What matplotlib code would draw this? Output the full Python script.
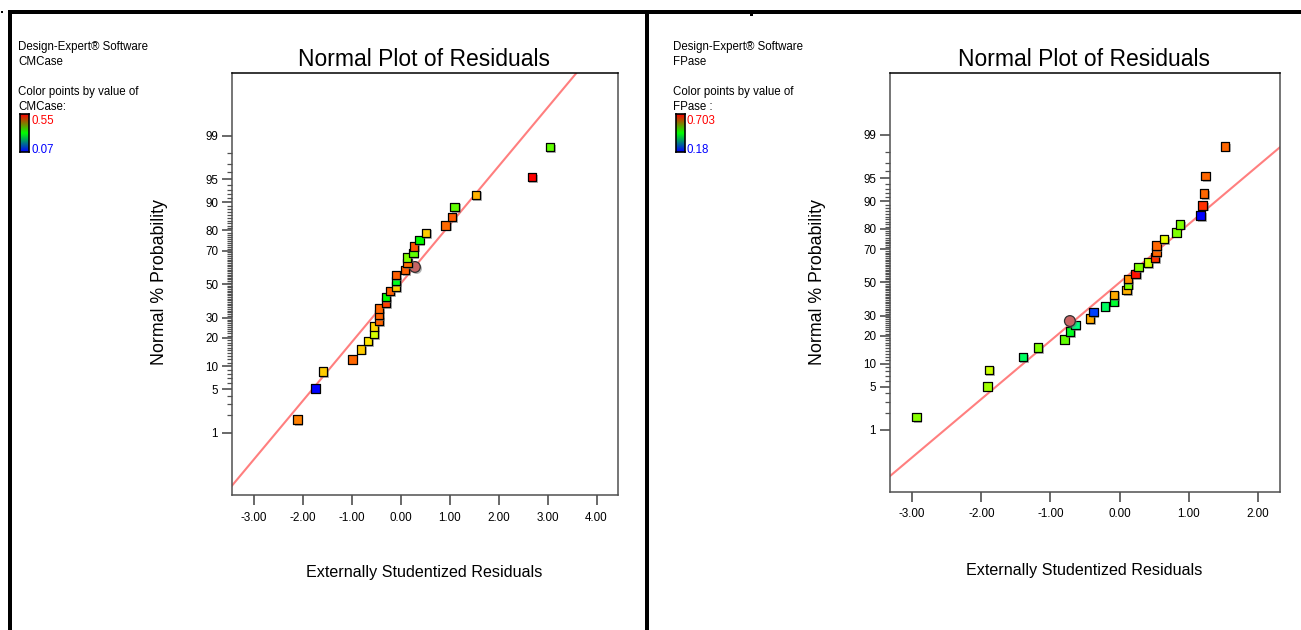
import math
import numpy as np
import matplotlib
matplotlib.use("Agg")
import matplotlib.pyplot as plt
from matplotlib.colors import LinearSegmentedColormap
from matplotlib.patches import Rectangle
import matplotlib.patheffects as pe

FONT = ["Liberation Sans", "DejaVu Sans"]
plt.rcParams["font.family"] = FONT

# ---------------- data: left panel (CMCase) ----------------
cm_resid = [-2.11, -1.74, -1.59, -0.99, -0.81, -0.67, -0.55, -0.55, -0.44, -0.44,
            -0.44, -0.30, -0.30, -0.22, -0.10, -0.10, -0.10, 0.09, 0.29, 0.14,
            0.13, 0.26, 0.27, 0.38, 0.52, 0.92, 1.05, 1.10, 1.54, 2.68, 3.05]
cm_prob = [1.70, 5.16, 8.53, 11.9, 15.4, 18.7, 21.8, 25.5, 28.4, 31.6,
           35.2, 38.6, 42.1, 45.6, 48.4, 52.0, 55.6, 58.7, 60.6, 62.9,
           66.3, 68.8, 72.2, 75.5, 78.8, 82.1, 85.3, 88.7, 91.9, 95.3, 98.4]
cm_colors = ["#FF8000", "#0000FF", "#FFCC00", "#FF6600", "#FFCC00", "#FFE600", "#D4FF00",
             "#FFD700", "#FF6600", "#FF6600", "#FF6600", "#FF4000", "#00FF00", "#FF6000",
             "#FFCC00", "#00FF20", "#FF6000", "#FF6000", "#C86464", "#FF7000", "#80FF00",
             "#60FF00", "#FF5000", "#00FF00", "#FFCC00", "#FF6A00", "#FF5A00", "#60FF00",
             "#FFB000", "#FF0000", "#60FF00"]
cm_circle_index = 18
cm_line = (0.918, 0.01)          # slope, intercept (in normal-quantile units)
cm_range = ("0.55", "0.07")
cm_name = "CMCase"
cm_colorby = "CMCase:"

# ---------------- data: right panel (FPase) ----------------
fp_resid = [-2.94, -1.91, -1.89, -1.40, -1.18, -0.80, -0.72, -0.64, -0.72, -0.43,
            -0.38, -0.21, -0.08, -0.08, 0.10, 0.12, 0.12, 0.23, 0.27, 0.41,
            0.51, 0.53, 0.53, 0.64, 0.82, 0.87, 1.17, 1.20, 1.22, 1.24, 1.52]
fp_prob = [1.70, 5.05, 8.38, 11.9, 15.2, 18.4, 21.8, 25.1, 27.1, 28.4,
           31.9, 35.2, 38.2, 42.1, 45.2, 48.8, 52.0, 55.2, 59.5, 62.2,
           65.2, 68.4, 71.9, 75.2, 78.5, 81.9, 85.3, 88.7, 91.9, 95.3, 98.4]
fp_colors = ["#88FF00", "#A0FF00", "#CCFF00", "#00FF60", "#80FF00", "#60FF00", "#00FF20",
             "#00FF80", "#C86464", "#FFAA00", "#0040FF", "#00FF60", "#00FF30", "#FFAA00",
             "#FFB000", "#80FF00", "#FF8C00", "#FF1000", "#80FF00", "#CCFF00", "#FF3000",
             "#FF6600", "#FF6600", "#E6FF00", "#80FF00", "#80FF00", "#0000FF", "#FF3000",
             "#FF6600", "#FF6600", "#FF6600"]
fp_circle_index = 8
fp_line = (0.92, 0.0)
fp_range = ("0.703", "0.18")
fp_name = "FPase"
fp_colorby = "FPase :"

major_probs = [1, 5, 10, 20, 30, 50, 70, 80, 90, 95, 99]
x_ticks_left = [-3, -2, -1, 0, 1, 2, 3, 4]
x_ticks_right = [-3, -2, -1, 0, 1, 2]


def norm_cdf(z):
    return 0.5 * (1.0 + math.erf(z / math.sqrt(2.0)))


def norm_ppf(p):
    lo, hi = -10.0, 10.0
    for _ in range(100):
        mid = 0.5 * (lo + hi)
        if norm_cdf(mid) < p:
            lo = mid
        else:
            hi = mid
    return 0.5 * (lo + hi)


def z_of(pcts):
    return [norm_ppf(p / 100.0) for p in pcts]


W, H = 1301, 630
fig = plt.figure(figsize=(W / 100, H / 100), dpi=100)


def fx(x):
    return x / W


def fy(y):
    return 1 - y / H


def add_axes_px(x0, y0, x1, y1):
    return fig.add_axes([fx(x0), fy(y1), (x1 - x0) / W, (y1 - y0) / H])


cmap = LinearSegmentedColormap.from_list("de", ["#0000FF", "#00FF00", "#FF0000"])

shadow = [pe.SimplePatchShadow(offset=(1.2, -1.2), shadow_rgbFace="0.45", alpha=0.55), pe.Normal()]


def panel(box, xlim, xticks, resid, prob, colors, circ, line, rng, name, colorby,
          txt_x, cbar_box, ylab_x, title_x, xlab_y):
    ax = add_axes_px(*box)
    z = z_of(prob)
    ax.set_xlim(*xlim)
    ax.set_ylim(-3.3, 3.3)
    ax.axline((0, line[1]), slope=line[0], color="#FF7F7F", lw=1.5, zorder=1)
    for i in range(len(resid)):
        if i == circ:
            ax.scatter([resid[i]], [z[i]], s=60, marker="o", c=[colors[i]],
                       edgecolors="#303030", linewidths=0.9, zorder=3 + i * 0.01,
                       path_effects=shadow)
        else:
            ax.scatter([resid[i]], [z[i]], s=38, marker="s", c=[colors[i]],
                       edgecolors="black", linewidths=0.9, zorder=3 + i * 0.01,
                       path_effects=shadow)
    ax.set_yticks(z_of(major_probs))
    ax.set_yticklabels([str(p) for p in major_probs])
    minor = [p for p in range(2, 99) if p not in major_probs]
    ax.set_yticks(z_of(minor), minor=True)
    ax.set_xticks(xticks)
    ax.set_xticklabels(["%.2f" % t for t in xticks])
    ax.tick_params(axis="both", which="major", length=7, width=1.1, color="#404040",
                   labelsize=8.4, labelcolor="black")
    ax.tick_params(axis="y", which="major", pad=3)
    ax.tick_params(axis="x", which="major", pad=5)
    ax.tick_params(axis="y", which="minor", length=3.5, width=0.9, color="#505050")
    for s in ax.spines.values():
        s.set_color("#505050")
        s.set_linewidth(1.1)
    ax.spines["top"].set_color("black")
    fig.text(fx(title_x), fy(66), "Normal Plot of Residuals", ha="center", va="baseline",
             fontsize=16.5)
    fig.text(fx(ylab_x), fy(282), "Normal % Probability", rotation=90, ha="center",
             va="center", fontsize=12.8)
    fig.text(fx(title_x), fy(xlab_y), "Externally Studentized Residuals", ha="center",
             va="center", fontsize=11.6)
    # side notes
    fig.text(fx(txt_x), fy(50), "Design-Expert\u00ae Software", fontsize=8.3, va="baseline")
    fig.text(fx(txt_x), fy(65), name, fontsize=8.3, va="baseline")
    fig.text(fx(txt_x), fy(95), "Color points by value of", fontsize=8.3, va="baseline")
    fig.text(fx(txt_x), fy(109.5), colorby, fontsize=8.3, va="baseline")
    cax = add_axes_px(*cbar_box)
    grad = np.linspace(1, 0, 100).reshape(-1, 1)
    cax.imshow(grad, aspect="auto", cmap=cmap, extent=(0, 1, 0, 1))
    cax.set_xticks([])
    cax.set_yticks([])
    for s in cax.spines.values():
        s.set_color("black")
        s.set_linewidth(1.2)
    fig.text(fx(cbar_box[2] + 2.5), fy(124), rng[0], color="#FF0000", fontsize=8.3,
             va="baseline")
    fig.text(fx(cbar_box[2] + 2.5), fy(153), rng[1], color="#0000FF", fontsize=8.3,
             va="baseline")
    return ax


panel((232, 73.3, 618, 495), (-3.446, 4.438), x_ticks_left, cm_resid, cm_prob, cm_colors,
      cm_circle_index, cm_line, cm_range, cm_name, cm_colorby,
      18, (20, 114, 28.5, 152), 160, 424, 573)
panel((890, 73, 1280, 491.7), (-3.319, 2.316), x_ticks_right, fp_resid, fp_prob, fp_colors,
      fp_circle_index, fp_line, fp_range, fp_name, fp_colorby,
      673.3, (675.7, 114, 684.5, 152), 818, 1084, 571)

# black frame bars and small marks
for (x0, y0, x1, y1) in [(8, 10, 1301, 14), (8, 10, 12, 630), (645, 10, 649, 630),
                         (1, 11, 3, 13), (750, 14, 753, 15.5)]:
    fig.add_artist(Rectangle((fx(x0), fy(y1)), (x1 - x0) / W, (y1 - y0) / H,
                             transform=fig.transFigure, facecolor="black",
                             edgecolor="none"))

fig.savefig("out.png", dpi=100)
